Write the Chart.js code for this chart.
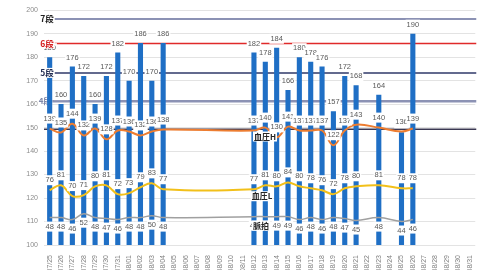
<!DOCTYPE html>
<html>
<head>
<meta charset="utf-8">
<script src="https://cdn.jsdelivr.net/npm/chart.js@4.4.0/dist/chart.umd.min.js"></script>
<style>
  html, body { margin: 0; padding: 0; background: #fff; }
</style>
</head>
<body>
<canvas id="chart" width="480" height="270"></canvas>
<script>
const days = ['07/25','07/26','07/27','07/28','07/29','07/30','07/31','08/01','08/02','08/03','08/04',
  '08/05','08/06','08/07','08/08','08/09','08/10','08/11','08/12','08/13','08/14','08/15','08/16',
  '08/17','08/18','08/19','08/20','08/21','08/22','08/23','08/24','08/25','08/26','08/27','08/28',
  '08/29','08/30','08/31'];

const _ = null;
const maxVal = [180,160,176,172,160,172,182,170,186,170,186, _,_,_,_,_,_,_,
  182,178,184,166,180,178,176,157,172,168,_,164,_,148,190, _,_,_,_,_];
const bpHigh = [139,135,144,132,139,128,137,136,132,136,138, _,_,_,_,_,_,_,
  137,140,130,141,137,137,137,122,137,143,_,140,_,136,139, _,_,_,_,_];
const bpLow = [76,81,70,71,80,81,72,73,79,83,77, _,_,_,_,_,_,_,
  77,81,80,84,80,78,76,72,78,80,_,81,_,78,78, _,_,_,_,_];
const pulse = [48,48,46,52,48,47,46,48,48,50,48, _,_,_,_,_,_,_,
  49,49,49,49,46,48,46,48,47,45,_,48,_,44,46, _,_,_,_,_];

const levelNames = ['7段','6段','5段','4段'];
const levelValues = [196.2, 185.8, 173.3, 161.2];
const bpRefValue = 149.3;

const levelColors = ['#8c92b4','#e02a2a','#2f3868','#8c92b4'];
const levelText = ['#222222','#d42020','#1f2a50','#8088a8'];
const levelWidth = [2, 1.5, 1.5, 2.5];
const nameAt = 18;   // series names sit next to 08/12

function boxText(ctx, text, x, y, font, color) {
  ctx.font = font;
  const w = ctx.measureText(text).width + 2;
  ctx.fillStyle = '#fff';
  ctx.fillRect(x - w / 2, y - 5, w, 10);
  ctx.fillStyle = color;
  ctx.textAlign = 'center';
  ctx.textBaseline = 'middle';
  ctx.fillText(text, x, y);
}

const overlay = {
  id: 'overlay',
  beforeDatasetsDraw(chart) {
    const { ctx, chartArea, scales: { y } } = chart;
    ctx.save();
    ctx.strokeStyle = '#3b3852';
    ctx.lineWidth = 1.5;
    const by = y.getPixelForValue(bpRefValue);
    ctx.beginPath(); ctx.moveTo(chartArea.left, by); ctx.lineTo(chartArea.right + 1, by); ctx.stroke();
    levelValues.forEach((v, i) => {
      const py = y.getPixelForValue(v);
      ctx.strokeStyle = levelColors[i];
      ctx.lineWidth = levelWidth[i];
      ctx.beginPath(); ctx.moveTo(chartArea.left, py); ctx.lineTo(chartArea.right + 1, py); ctx.stroke();
    });
    // 4段 sits behind the first bar
    boxText(ctx, levelNames[3], chartArea.left + 1, y.getPixelForValue(levelValues[3]),
      'bold 8px "Noto Sans CJK JP"', levelText[3]);
    ctx.restore();
  },
  afterDatasetsDraw(chart) {
    const { ctx, chartArea, scales: { x, y, y2 } } = chart;
    const numFont = '7.5px "Liberation Sans"';
    const grey = '#595959';
    ctx.save();
    maxVal.forEach((v, i) => {
      if (v == null) return;
      boxText(ctx, String(v), x.getPixelForValue(i), y.getPixelForValue(v) - 9, numFont, grey);
    });
    pulse.forEach((v, i) => {
      if (v == null) return;
      boxText(ctx, String(v), x.getPixelForValue(i), y2.getPixelForValue(v) + 9, numFont, grey);
    });
    bpLow.forEach((v, i) => {
      if (v == null) return;
      boxText(ctx, String(v), x.getPixelForValue(i), y2.getPixelForValue(v) - 10, numFont, grey);
    });
    bpHigh.forEach((v, i) => {
      if (v == null) return;
      boxText(ctx, String(v), x.getPixelForValue(i), y2.getPixelForValue(v) - 10, numFont, grey);
    });

    // series names
    const nx = x.getPixelForValue(nameAt) + 8;
    const nameFont = 'bold 8px "Noto Sans CJK JP"';
    boxText(ctx, '血圧H', nx + 3, y2.getPixelForValue(bpHigh[nameAt]) + 6, nameFont, '#262626');
    boxText(ctx, '血圧L', nx, y2.getPixelForValue(bpLow[nameAt]) + 7, nameFont, '#262626');
    boxText(ctx, '脈拍', nx - 1, y2.getPixelForValue(pulse[nameAt]) + 9, nameFont, '#262626');

    // level labels
    for (let i = 0; i < 3; i++) {
      boxText(ctx, levelNames[i], chartArea.left + 3, y.getPixelForValue(levelValues[i]),
        'bold 8.5px "Noto Sans CJK JP"', levelText[i]);
    }
    ctx.restore();
  }
};

new Chart('chart', {
  data: {
    labels: days,
    datasets: [
      { type: 'line', label: '血圧H', data: bpHigh, yAxisID: 'y2', borderColor: '#ed7d31',
        borderWidth: 2, pointRadius: 0, tension: 0.4, spanGaps: true, order: 1 },
      { type: 'line', label: '血圧L', data: bpLow, yAxisID: 'y2', borderColor: '#f2c01a',
        borderWidth: 2, pointRadius: 0, tension: 0.4, spanGaps: true, order: 2 },
      { type: 'line', label: '脈拍', data: pulse, yAxisID: 'y2', borderColor: '#a0a0a0',
        borderWidth: 1.5, pointRadius: 0, tension: 0.4, spanGaps: true, order: 3 },
      { type: 'bar', label: 'max', data: maxVal, yAxisID: 'y', backgroundColor: '#1f6fc5',
        barPercentage: 0.45, categoryPercentage: 1, order: 4 }
    ]
  },
  options: {
    responsive: false,
    animation: false,
    devicePixelRatio: 1,
    layout: { padding: { top: 6, right: 1, left: 0, bottom: 0 } },
    plugins: { legend: { display: false }, tooltip: { enabled: false } },
    scales: {
      x: {
        offset: true,
        grid: { display: false },
        border: { display: false },
        ticks: { autoSkip: false, maxRotation: 90, minRotation: 90, padding: 2,
          font: { size: 7, family: 'Liberation Sans' }, color: '#7f7f7f' },
        afterFit(s) { s.height = 25; }
      },
      y: {
        min: 100, max: 200,
        ticks: { stepSize: 10, padding: 6, font: { size: 7, family: 'Liberation Sans' }, color: '#8c8c8c' },
        grid: { color: '#e3e3e3', drawTicks: false },
        border: { display: false },
        afterFit(s) { s.width = 44; }
      },
      y2: { display: false, min: 20, max: 260 }
    }
  },
  plugins: [overlay]
});
</script>
</body>
</html>
